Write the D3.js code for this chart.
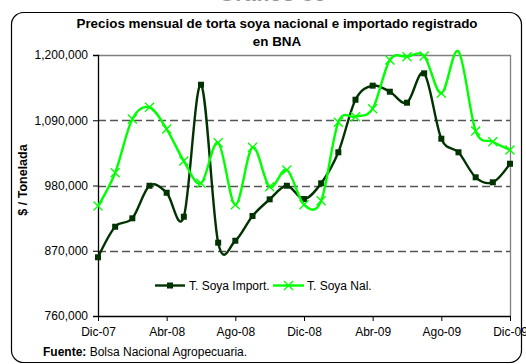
<!DOCTYPE html>
<html>
<head>
<meta charset="utf-8">
<script src="https://cdn.jsdelivr.net/npm/d3@7"></script>
<style>
  html, body { margin: 0; padding: 0; background: #fff; }
  svg { display: block; font-family: Arial, "Liberation Sans", sans-serif; }
</style>
</head>
<body>
<svg id="chart" width="526" height="364"></svg>
<script>
// Monthly price of soybean cake (torta de soya), $ per tonne, Dec-2007 .. Dec-2009
const months = [
  "Dic-07","Ene-08","Feb-08","Mar-08","Abr-08","May-08","Jun-08","Jul-08","Ago-08",
  "Sep-08","Oct-08","Nov-08","Dic-08","Ene-09","Feb-09","Mar-09","Abr-09","May-09",
  "Jun-09","Jul-09","Ago-09","Sep-09","Oct-09","Nov-09","Dic-09"
];
const importado = [
  859000, 910500, 924700, 979600, 967800, 927400, 1149900, 883600, 886900,
  928600, 956700, 979600, 957200, 983700, 1036000, 1124600, 1148300, 1138100,
  1119600, 1169100, 1058900, 1036000, 993800, 985400, 1016700
];
const nacional = [
  945400, 1001600, 1092100, 1111800, 1075200, 1021300, 983700, 1052100, 947600,
  1044400, 978000, 1006100, 947600, 954400, 1086500, 1096000, 1109500, 1191600,
  1197100, 1198300, 1135400, 1206000, 1071900, 1053800, 1039800
];
const yTicks = [760000, 870000, 980000, 1090000, 1200000];
const xTickLabels = ["Dic-07", "Abr-08", "Ago-08", "Dic-08", "Abr-09", "Ago-09", "Dic-09"];
const seriesNames = ["T. Soya Import.", "T. Soya Nal."];

const svg = d3.select("#chart");
const plot = { left: 98, right: 510, top: 55, bottom: 316 };

// Document heading, mostly cut off above the frame
svg.append("text")
  .attr("x", 272).attr("y", 1)
  .attr("text-anchor", "middle")
  .attr("font-size", 22).attr("font-weight", "bold")
  .attr("fill", "#999")
  .text("Gráfico 36");

// Chart frame
svg.append("rect")
  .attr("x", 11.5).attr("y", 12.5)
  .attr("width", 510).attr("height", 350)
  .attr("rx", 12).attr("ry", 12)
  .attr("fill", "#fff").attr("stroke", "#000").attr("stroke-width", 1.2);

// Title
const title = svg.append("text")
  .attr("text-anchor", "middle")
  .attr("font-size", 13.4).attr("font-weight", "bold");
title.append("tspan").attr("x", 277).attr("y", 28)
  .text("Precios mensual de torta soya nacional e importado registrado");
title.append("tspan").attr("x", 277).attr("y", 46).text("en BNA");

const x = d3.scalePoint().domain(months).range([plot.left, plot.right]);
const y = d3.scaleLinear().domain([760000, 1200000]).range([plot.bottom, plot.top]);

// Gridlines
svg.append("g").selectAll("line")
  .data(yTicks.filter(v => v > 760000 && v < 1200000))
  .join("line")
  .attr("x1", plot.left).attr("x2", plot.right)
  .attr("y1", d => Math.round(y(d)) + 0.5).attr("y2", d => Math.round(y(d)) + 0.5)
  .attr("stroke", "#555").attr("stroke-width", 1.3)
  .attr("stroke-dasharray", "8,4");

// Plot area border (top and right)
svg.append("path")
  .attr("d", `M${plot.left},${plot.top + 0.5}H${plot.right + 0.5}V${plot.bottom}`)
  .attr("fill", "none").attr("stroke", "#808080").attr("stroke-width", 1.3);

// Y axis
const yAxis = svg.append("g")
  .attr("transform", `translate(${plot.left},0)`)
  .call(d3.axisLeft(y).tickValues(yTicks).tickSize(5).tickPadding(5)
    .tickFormat(d3.format(",")));
yAxis.select(".domain").attr("stroke", "#000").attr("stroke-width", 1.3);
yAxis.selectAll(".tick text").attr("font-size", 12).attr("font-family", "Arial, 'Liberation Sans', sans-serif").attr("fill", "#000");

// X axis
const xAxis = svg.append("g")
  .attr("transform", `translate(0,${plot.bottom})`)
  .call(d3.axisBottom(x).tickValues(xTickLabels).tickSize(5).tickPadding(6).tickSizeOuter(0));
xAxis.select(".domain").attr("stroke", "#000").attr("stroke-width", 1.3);
xAxis.selectAll(".tick text").attr("font-size", 12).attr("font-family", "Arial, 'Liberation Sans', sans-serif").attr("fill", "#000");

// Y axis title
svg.append("text")
  .attr("transform", "translate(27,180) rotate(-90)")
  .attr("text-anchor", "middle")
  .attr("font-size", 12.5).attr("font-weight", "bold")
  .text("$ / Tonelada");

// Series
const line = d3.line()
  .x((d, i) => x(months[i]))
  .y(d => y(d))
  .curve(d3.curveCatmullRom.alpha(0));

const colImp = "#003300";
const colNal = "#00ff00";

svg.append("path").datum(importado)
  .attr("d", line).attr("fill", "none")
  .attr("stroke", colImp).attr("stroke-width", 2.4);

svg.append("g").selectAll("rect")
  .data(importado)
  .join("rect")
  .attr("x", (d, i) => x(months[i]) - 3)
  .attr("y", d => y(d) - 3)
  .attr("width", 6).attr("height", 6)
  .attr("fill", colImp);

svg.append("path").datum(nacional)
  .attr("d", line).attr("fill", "none")
  .attr("stroke", colNal).attr("stroke-width", 2.4);

// X markers; points above the axis maximum are left unmarked
const xMark = (cx, cy, r) => `M${cx - r},${cy - r}L${cx + r},${cy + r}M${cx - r},${cy + r}L${cx + r},${cy - r}`;
svg.append("g").selectAll("path")
  .data(nacional.map((v, i) => ({ v, i })).filter(d => d.v <= 1200000))
  .join("path")
  .attr("d", d => xMark(x(months[d.i]), y(d.v), 4.5))
  .attr("fill", "none").attr("stroke", colNal).attr("stroke-width", 1.3);

// Legend
const lg = svg.append("g").attr("font-size", 12);
lg.append("line").attr("x1", 155).attr("x2", 185).attr("y1", 285.5).attr("y2", 285.5)
  .attr("stroke", colImp).attr("stroke-width", 2.4);
lg.append("rect").attr("x", 167).attr("y", 282.5).attr("width", 6).attr("height", 6).attr("fill", colImp);
lg.append("text").attr("x", 189).attr("y", 290).text(seriesNames[0]);
lg.append("line").attr("x1", 273).attr("x2", 304).attr("y1", 285.5).attr("y2", 285.5)
  .attr("stroke", colNal).attr("stroke-width", 2.4);
lg.append("path").attr("d", xMark(288.5, 285.5, 4.5))
  .attr("fill", "none").attr("stroke", colNal).attr("stroke-width", 1.3);
lg.append("text").attr("x", 307).attr("y", 290).text(seriesNames[1]);

// Source note
const src = svg.append("text").attr("x", 43).attr("y", 356).attr("font-size", 12);
src.append("tspan").attr("font-weight", "bold").text("Fuente:");
src.append("tspan").text(" Bolsa Nacional Agropecuaria.");
</script>
</body>
</html>
